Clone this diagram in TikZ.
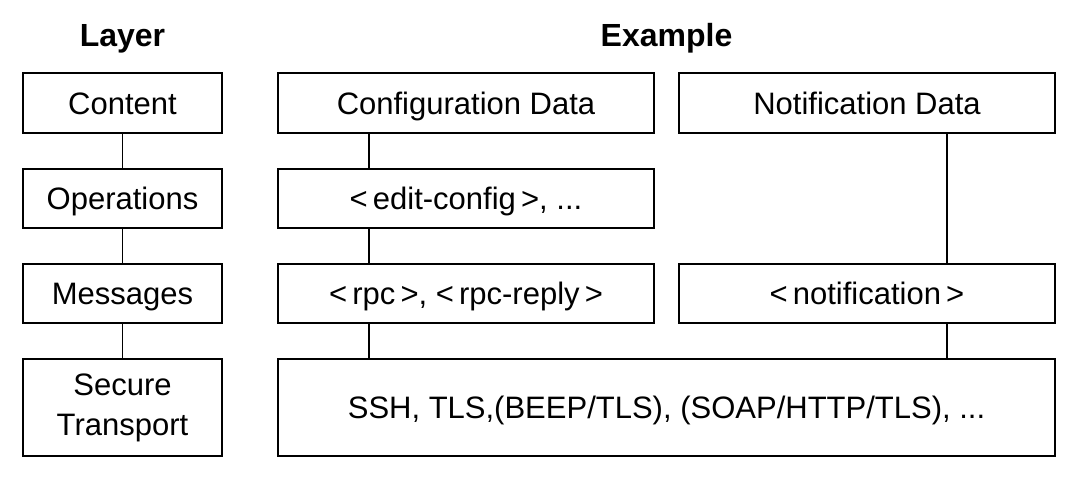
\documentclass[tikz,border=0pt]{standalone}
\usepackage{fontspec}
\setmainfont{Liberation Sans}
\begin{document}
\begin{tikzpicture}[x=1pt,y=-1pt,
  box/.style={draw=black,line width=1.7pt,inner sep=0pt,align=center,
    font=\fontsize{31}{40}\selectfont,text=black,text height=22pt,text depth=0pt},
  head/.style={font=\fontsize{32}{34}\selectfont\bfseries,text height=23pt,text depth=0pt,inner sep=0pt},
  conn/.style={draw=black,line width=1.7pt}]
\useasboundingbox (0,0) rectangle (1079,480);
\node[head] (hl) at (122.5,35) {Layer};
\node[head] (he) at (666.5,35) {Example};
\node[box,minimum width=199pt,minimum height=60pt] (content) at (122.5,103) {Content};
\node[box,minimum width=199pt,minimum height=59pt] (ops) at (122.5,198.5) {Operations};
\node[box,minimum width=199pt,minimum height=59pt] (msg) at (122.5,293.5) {Messages};
\node[box,minimum width=199pt,minimum height=97pt,text height=,text depth=] (trans) at (122.5,407.5) {Secure\\Transport};
\node[box,minimum width=376pt,minimum height=60pt] (cfg) at (466,103) {Configuration Data};
\node[box,minimum width=376pt,minimum height=60pt] (notd) at (867,103) {Notification Data};
\node[box,minimum width=376pt,minimum height=59pt] (edit) at (466,198.5) {<\,edit-config\,>, ...};
\node[box,minimum width=376pt,minimum height=59pt] (rpc) at (466,293.5) {<\,rpc\,>, <\,rpc-reply\,>};
\node[box,minimum width=376pt,minimum height=59pt] (notif) at (867,293.5) {<\,notification\,>};
\node[box,minimum width=777pt,minimum height=97pt] (ssh) at (666.5,407.5) {SSH, TLS,(BEEP/TLS), (SOAP/HTTP/TLS), ...};
\draw[conn] (content) -- (ops);
\draw[conn] (ops) -- (msg);
\draw[conn] (msg) -- (trans);
\draw[conn] ([xshift=92pt]cfg.south west) -- ([xshift=92pt]edit.north west);
\draw[conn] ([xshift=92pt]edit.south west) -- ([xshift=92pt]rpc.north west);
\draw[conn] ([xshift=92pt]rpc.south west) -- ([xshift=92pt]ssh.north west);
\draw[conn] ([xshift=269pt]notd.south west) -- ([xshift=269pt]notif.north west);
\draw[conn] ([xshift=269pt]notif.south west) -- ([xshift=670pt]ssh.north west);
\end{tikzpicture}
\end{document}
